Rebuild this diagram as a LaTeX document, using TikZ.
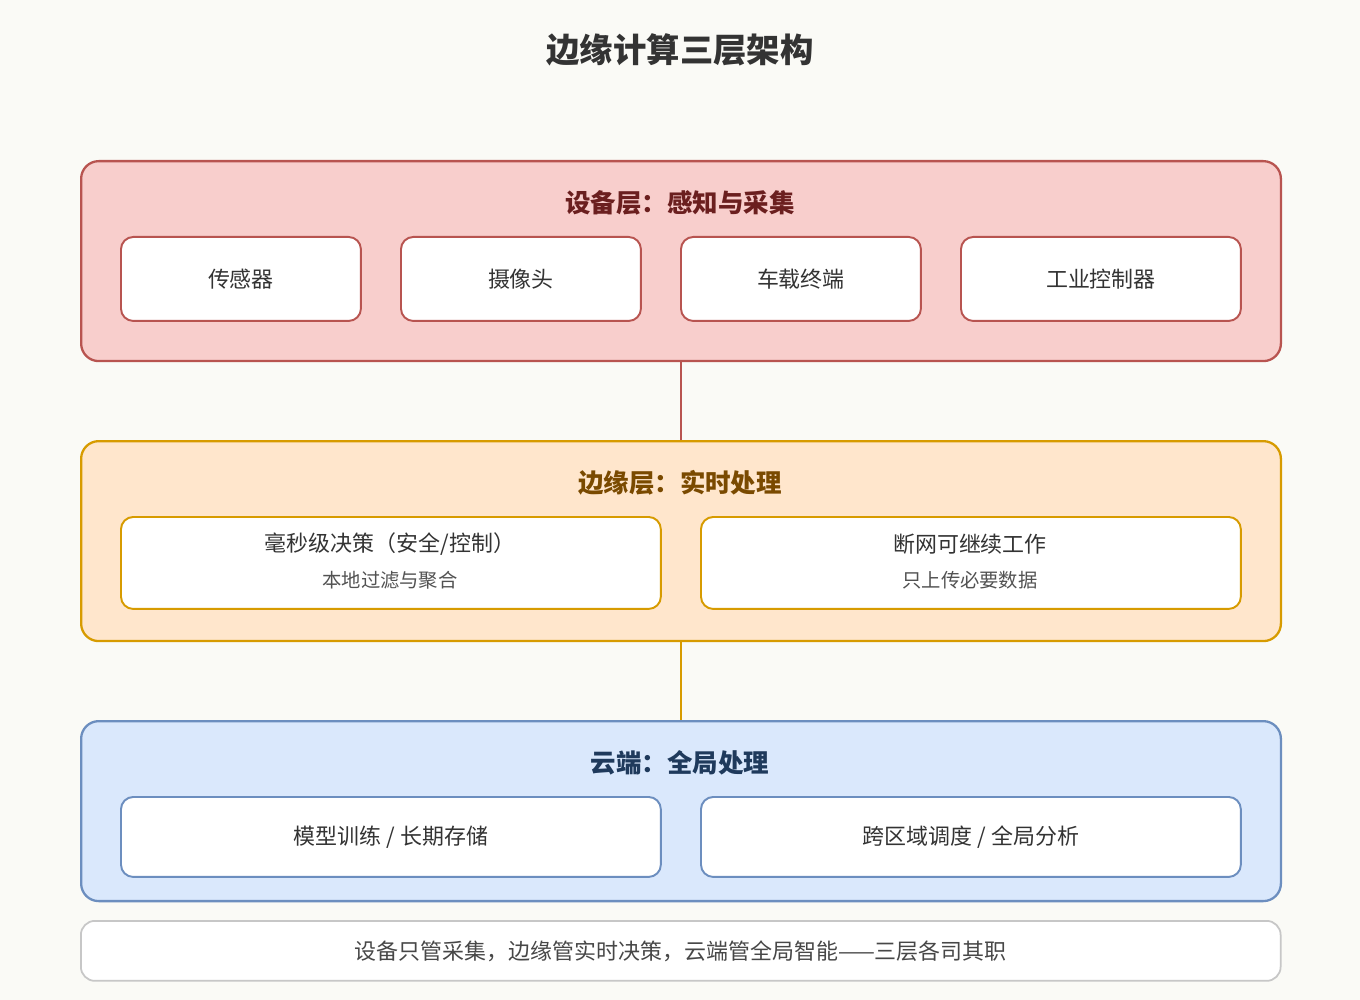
\documentclass[tikz,border=0pt]{standalone}
\usepackage{fontspec}
\setmainfont{Noto Sans CJK SC}
\usetikzlibrary{positioning}
\definecolor{bgc}{HTML}{FAFAF6}
\definecolor{devfill}{HTML}{F8CECC}\definecolor{devline}{HTML}{B85450}\definecolor{devtext}{HTML}{6B1F1F}
\definecolor{edgefill}{HTML}{FFE6CC}\definecolor{edgeline}{HTML}{D79B00}\definecolor{edgetext}{HTML}{7A4A00}
\definecolor{cloudfill}{HTML}{DAE8FC}\definecolor{cloudline}{HTML}{6C8EBF}\definecolor{cloudtext}{HTML}{1F3A5C}
\definecolor{txt}{HTML}{333333}
\tikzset{
layer/.style={draw=#1line,fill=#1fill,line width=1.3pt,rounded corners=10pt,minimum width=24cm,anchor=north west},
item/.style={draw=#1line,fill=white,line width=1.1pt,rounded corners=7pt,anchor=north west,text=txt,font=\fontsize{12.5}{15}\selectfont,align=center},
ltitle/.style={font=\fontsize{14.5}{17}\selectfont\bfseries,text=#1text}
}
\begin{document}
\begin{tikzpicture}[x=0.02cm,y=-0.02cm]
\fill[bgc](0,0)rectangle(1360,1000);
\useasboundingbox(0,0)rectangle(1360,1000);
\node[font=\fontsize{19}{22}\selectfont\bfseries,text=txt] (title) at (680,50) {边缘计算三层架构};
% layers
\node[layer=dev,minimum height=4cm] (dev) at (80,160) {};
\node[layer=edge,minimum height=4cm] (edge) at (80,440) {};
\node[layer=cloud,minimum height=3.6cm] (cloud) at (80,720) {};
\draw[devline,line width=1.5pt](dev.south)--(edge.north);
\draw[edgeline,line width=1.5pt](edge.south)--(cloud.north);
\node[ltitle=dev] (devt) at (680,203) {设备层：感知与采集};
\node[ltitle=edge] (edget) at (680,483) {边缘层：实时处理};
\node[ltitle=cloud] (cloudt) at (680,763) {云端：全局处理};
% device items
\node[item=dev,minimum width=4.8cm,minimum height=1.68cm] (sensor) at (120,236) {传感器};
\node[item=dev,minimum width=4.8cm,minimum height=1.68cm] (camera) at (400,236) {摄像头};
\node[item=dev,minimum width=4.8cm,minimum height=1.68cm] (vehicle) at (680,236) {车载终端};
\node[item=dev,minimum width=5.6cm,minimum height=1.68cm] (plc) at (960,236) {工业控制器};
% edge items
\node[item=edge,minimum width=10.8cm,minimum height=1.84cm] (fast) at (120,516) {};
\node[text=txt,font=\fontsize{12.5}{15}\selectfont] (fasta) at (390,544) {毫秒级决策（安全/控制）};
\node[text=txt!85,font=\fontsize{11}{13}\selectfont] (fastb) at (390,580) {本地过滤与聚合};
\node[item=edge,minimum width=10.8cm,minimum height=1.84cm] (offline) at (700,516) {};
\node[text=txt,font=\fontsize{12.5}{15}\selectfont] (offa) at (970,544) {断网可继续工作};
\node[text=txt!85,font=\fontsize{11}{13}\selectfont] (offb) at (970,580) {只上传必要数据};
% cloud items
\node[item=cloud,minimum width=10.8cm,minimum height=1.6cm] (train) at (120,796) {模型训练 / 长期存储};
\node[item=cloud,minimum width=10.8cm,minimum height=1.6cm] (sched) at (700,796) {跨区域调度 / 全局分析};
% footer
\node[draw=black!22,fill=white,line width=1pt,rounded corners=8pt,anchor=north west,minimum width=24cm,minimum height=1.2cm,text=txt!90,font=\fontsize{12.5}{15}\selectfont] (note) at (80,920) {设备只管采集，边缘管实时决策，云端管全局智能——三层各司其职};
\end{tikzpicture}
\end{document}
